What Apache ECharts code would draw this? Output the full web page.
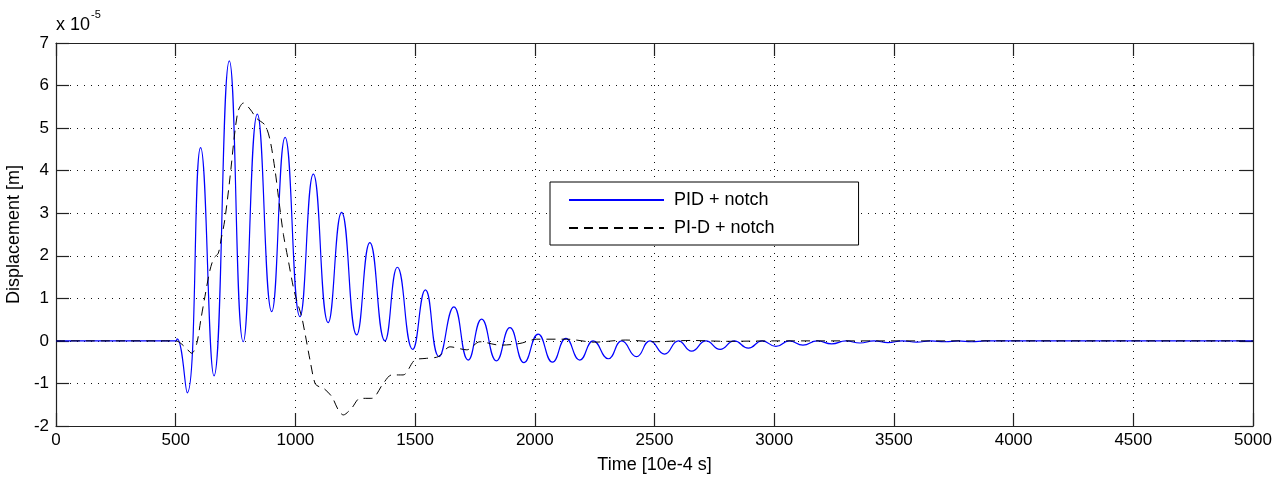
<!DOCTYPE html>
<html>
<head>
<meta charset="utf-8">
<script src="https://cdn.jsdelivr.net/npm/echarts@6/dist/echarts.min.js"></script>
<style>
html,body{margin:0;padding:0;background:#fff;}
#chart{width:1282px;height:479px;}
</style>
</head>
<body>
<div id="chart"></div>
<script>
// Data (displacement in units of 1e-5 m, time in 1e-4 s)
const xTicks = [0, 500, 1000, 1500, 2000, 2500, 3000, 3500, 4000, 4500, 5000];
const yTicks = [-2, -1, 0, 1, 2, 3, 4, 5, 6, 7];

const pidTime = [0, 500, 506, 548, 604, 660, 724, 782, 841, 901, 957, 1019, 1075, 1137, 1193, 1256, 1311, 1374, 1426, 1490, 1543, 1600, 1662, 1722, 1778, 1840, 1896, 1955, 2014, 2074, 2130, 2188, 2244, 2307, 2363, 2425, 2481, 2542, 2600, 2655, 2715, 2774, 2833, 2892, 2950, 3007, 3063, 3120, 3180, 3240, 3300, 3358, 3417, 3475, 3535, 3595, 3655, 3713, 3770, 3825, 3880, 5000];
const pidValue = [0, 0, 0.05, -1.22, 4.54, -0.82, 6.58, -0.02, 5.33, 0.69, 4.78, 0.57, 3.92, 0.43, 3.02, 0.14, 2.31, 0.0, 1.73, -0.2, 1.2, -0.37, 0.8, -0.45, 0.51, -0.47, 0.31, -0.51, 0.16, -0.5, 0.06, -0.45, 0.0, -0.42, 0.0, -0.37, 0.0, -0.31, 0.0, -0.24, 0.0, -0.2, 0.0, -0.17, 0.0, -0.13, 0.0, -0.1, 0.0, -0.07, 0.0, -0.05, 0.0, -0.04, 0.0, -0.03, 0.0, -0.02, 0.0, -0.02, 0.0, 0.0];

const pidTime2 = [0, 500, 540, 567, 588, 605, 622, 643, 660, 678, 690, 705, 727, 748, 762, 783, 810, 838, 873, 894, 915, 929, 950, 970, 991, 1005, 1026, 1040, 1061, 1082, 1100, 1117, 1152, 1179, 1200, 1235, 1270, 1319, 1367, 1402, 1450, 1499, 1548, 1597, 1646, 1716, 1771, 1855, 1938, 2008, 2133, 2250, 2380, 2500, 2650, 2800, 3000, 5000];
const pidValue2 = [0, 0, -0.15, -0.29, -0.06, 0.5, 1.04, 1.66, 1.95, 2.06, 2.4, 2.84, 3.85, 4.95, 5.42, 5.59, 5.45, 5.23, 5.07, 4.72, 4.01, 3.39, 2.5, 1.9, 1.27, 0.96, 0.57, 0.18, -0.45, -1.0, -1.08, -1.11, -1.31, -1.62, -1.74, -1.58, -1.35, -1.35, -1.0, -0.8, -0.8, -0.45, -0.41, -0.37, -0.14, -0.21, -0.02, -0.1, -0.06, 0.04, 0.04, -0.03, 0.02, -0.02, 0.01, -0.01, 0, 0];

const seriesNames = ['PID + notch', 'PI-D + notch'];

const pidData = pidTime.map((t, i) => [t, pidValue[i]]);
const pidData2 = pidTime2.map((t, i) => [t, pidValue2[i]]);

const FONT = 'Liberation Sans';
const chart = echarts.init(document.getElementById('chart'), null, {renderer: 'canvas'});

function axisCommon() {
  return {
    axisLine: {show: true, onZero: false, lineStyle: {color: '#222', width: 1.2}},
    axisTick: {show: true, inside: true, length: 13, lineStyle: {color: '#222', width: 1.2}}
  };
}
const fmt = v => String(v);
const gridDots = {show: true, lineStyle: {color: '#111', width: 1, type: [1, 6]}};

chart.setOption({
  animation: false,
  backgroundColor: '#fff',
  grid: {left: 56, right: 29, top: 43, bottom: 53, show: false, containLabel: false, outerBoundsMode: 'none'},
  graphic: [
    {type: 'text', left: 56, top: 16, style: {text: 'x 10', font: '18px "Liberation Sans"', fill: '#000'}},
    {type: 'text', left: 91, top: 9, style: {text: '-5', font: '11px "Liberation Sans"', fill: '#000'}}
  ],
  legend: {
    show: true,
    orient: 'vertical',
    left: 550,
    top: 182,
    padding: [8, 84, 7, 18],
    itemGap: 8,
    itemWidth: 95,
    itemHeight: 14,
    borderColor: '#000',
    borderWidth: 1,
    backgroundColor: '#fff',
    itemStyle: {color: 'transparent', borderWidth: 0, borderColor: 'transparent'},
    textStyle: {fontFamily: FONT, fontSize: 18, color: '#000', lineHeight: 20, padding: [0, 0, 0, 5]},
    data: seriesNames
  },
  xAxis: [
    Object.assign({
      type: 'value', min: 0, max: 5000, interval: 500, position: 'bottom',
      name: 'Time [10e-4 s]', nameLocation: 'middle', nameGap: 30,
      nameTextStyle: {fontFamily: FONT, fontSize: 18, color: '#000'},
      axisLabel: {fontFamily: FONT, fontSize: 17, color: '#000', margin: 6, formatter: fmt},
      splitLine: gridDots
    }, axisCommon()),
    Object.assign({
      type: 'value', min: 0, max: 5000, interval: 500, position: 'top',
      axisLabel: {show: false}, splitLine: {show: false}
    }, axisCommon())
  ],
  yAxis: [
    Object.assign({
      type: 'value', min: -2, max: 7, interval: 1, position: 'left',
      name: 'Displacement [m]', nameLocation: 'middle', nameGap: 30,
      nameTextStyle: {fontFamily: FONT, fontSize: 18, color: '#000'},
      axisLabel: {fontFamily: FONT, fontSize: 17, color: '#000', margin: 7, formatter: fmt},
      splitLine: gridDots
    }, axisCommon()),
    Object.assign({
      type: 'value', min: -2, max: 7, interval: 1, position: 'right',
      axisLabel: {show: false}, splitLine: {show: false}
    }, axisCommon())
  ],
  series: [
    {
      name: seriesNames[0], type: 'line', data: pidData, symbol: 'none',
      smooth: 0.5, xAxisIndex: 0, yAxisIndex: 0,
      lineStyle: {color: '#0000ff', width: 1.2}, itemStyle: {color: '#0000ff'}
    },
    {
      name: seriesNames[1], type: 'line', data: pidData2, symbol: 'none',
      smooth: 0.3, xAxisIndex: 0, yAxisIndex: 0,
      lineStyle: {color: '#000', width: 1, type: [9, 6]}, itemStyle: {color: '#000'}
    }
  ]
});
</script>
</body>
</html>
